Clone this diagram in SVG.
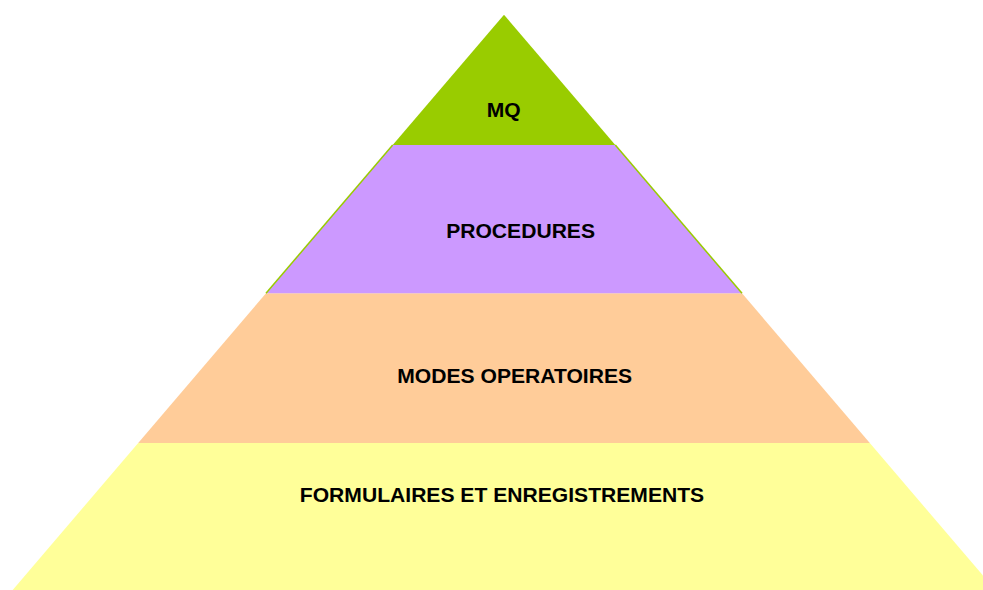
<svg xmlns="http://www.w3.org/2000/svg" width="983" height="590" viewBox="0 0 983 590">
  <style>
    .lbl { font-family: "Liberation Sans", Arial, sans-serif; font-weight: bold; font-size: 21.1px; fill: #000000; text-anchor: middle; }
  </style>
  <rect width="983" height="590" fill="#ffffff"/>
  <!-- pyramid tiers, apex at (504,14.7), edge slope 0.854 px per px down -->
  <g id="tier-formulaires">
    <polygon points="138.2,443 869.8,443 995.3,590 12.7,590" fill="#FFFF99"/>
    <text class="lbl" x="502" y="501.5">FORMULAIRES ET ENREGISTREMENTS</text>
  </g>
  <g id="tier-modes">
    <polygon points="266,293.3 742,293.3 869.8,443 138.2,443" fill="#FFCC99"/>
    <text class="lbl" x="514.7" y="382.5">MODES OPERATOIRES</text>
  </g>
  <g id="tier-procedures">
    <polygon points="392.7,145 615.3,145 742,293.3 266,293.3" fill="#CC99FF"/>
    <line x1="392.7" y1="145" x2="266" y2="293.3" stroke="#99CC00" stroke-width="1.5"/>
    <line x1="615.3" y1="145" x2="742" y2="293.3" stroke="#99CC00" stroke-width="1.5"/>
    <text class="lbl" x="520.6" y="238.3">PROCEDURES</text>
  </g>
  <g id="tier-mq">
    <polygon points="504,14.7 615.3,145 392.7,145" fill="#99CC00"/>
    <text class="lbl" x="503.7" y="117.3">MQ</text>
  </g>
</svg>
